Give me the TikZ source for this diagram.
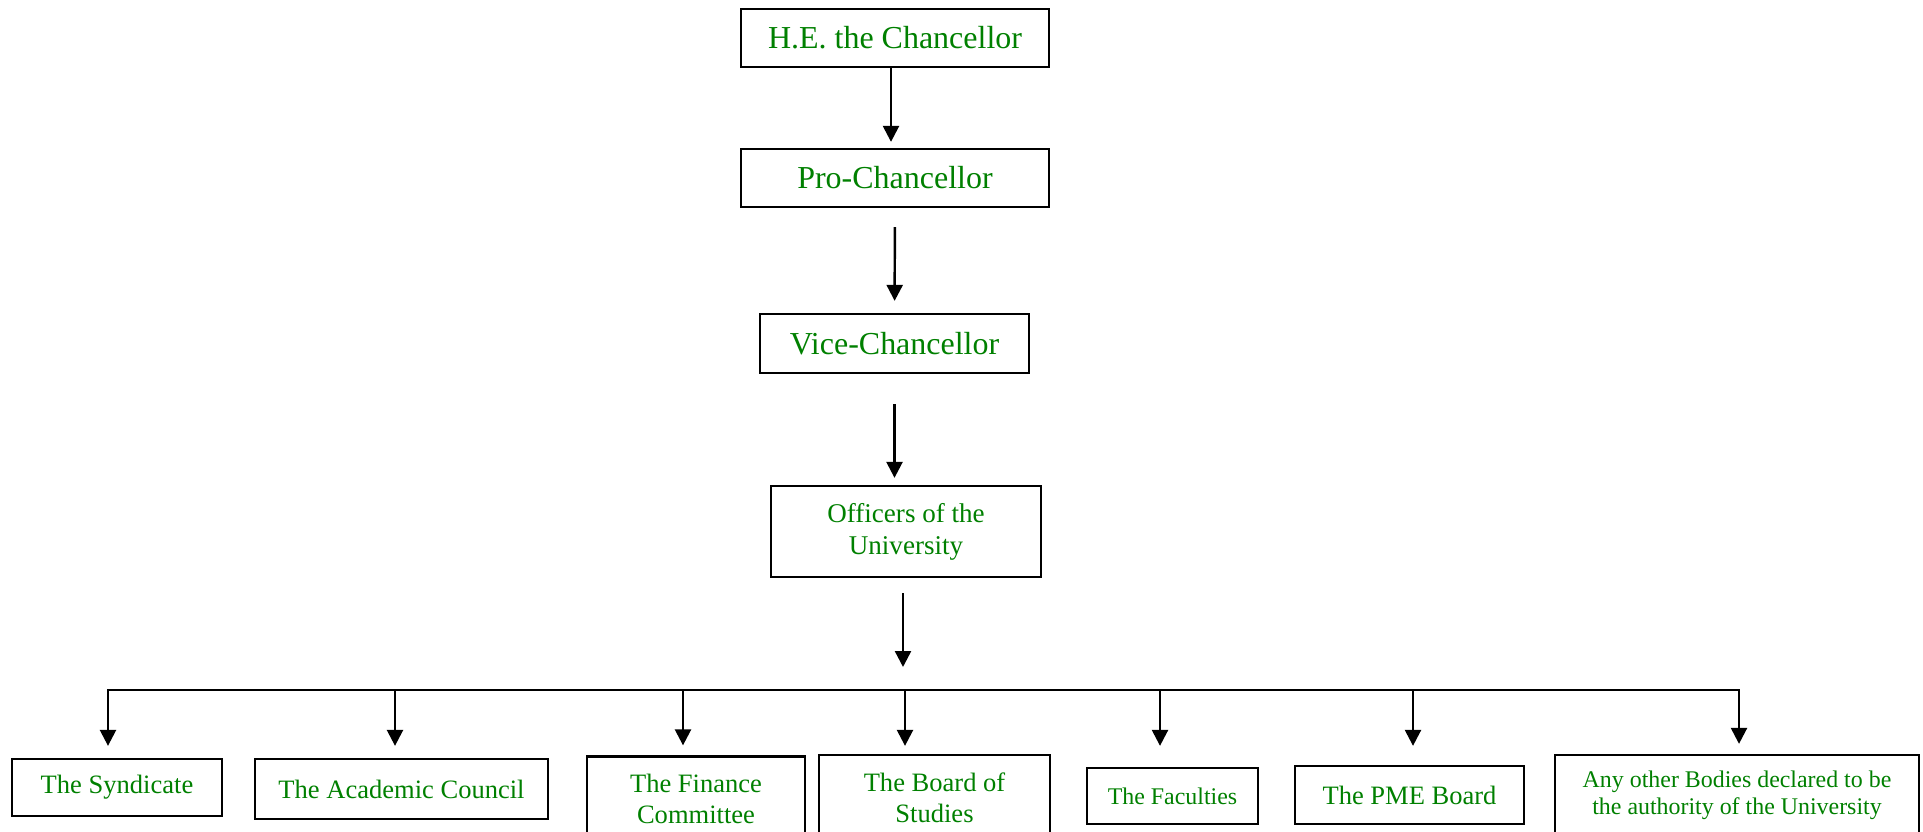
\documentclass[tikz,border=0pt]{standalone}
\usepackage{fontspec}
\setmainfont{Liberation Serif}
\usetikzlibrary{
  arrows.meta,
  positioning,
}
\definecolor{orggreen}{RGB}{0,128,0}

\begin{document}
\begin{tikzpicture}[
  box/.style 2 args={draw, line width=1.3pt, text=orggreen, align=center, inner sep=0pt, minimum width=#1, minimum height=#2},
  big/.style={font=\fontsize{18.2}{21}\selectfont},
  mid/.style={font=\fontsize{15.1}{17.6}\selectfont},
  small/.style={font=\fontsize{13.6}{15.4}\selectfont},
  arr/.style={line width=1.4pt, -{Triangle[length=0.32cm, width=0.32cm]}},
]
\useasboundingbox (0,0) rectangle (38.46,-16.64);
\node[box={6.16cm}{1.16cm}, big] (chan) at (17.9,-0.76) {H.E. the Chancellor};
\node[box={6.16cm}{1.16cm}, big] (pro) at (17.9,-3.56) {Pro-Chancellor};
\node[box={5.38cm}{1.18cm}, big] (vice) at (17.89,-6.87) {Vice-Chancellor};
\node[box={5.4cm}{1.82cm}, font=\fontsize{15.4}{18.2}\selectfont] (off) at (18.12,-10.63) {Officers of the\\University};
\node[box={4.2cm}{1.14cm}, mid] (syn) at (2.34,-15.75) {The Syndicate};
\node[box={5.86cm}{1.2cm}, mid] (acad) at (8.03,-15.78) {The Academic Council};
\node[box={4.36cm}{1.7cm}, mid] (fin) at (13.92,-15.98) {The Finance\\Committee};
\node[box={4.62cm}{1.72cm}, mid] (board) at (18.69,-15.96) {The Board of\\Studies};
\node[box={3.42cm}{1.12cm}, small] (fac) at (23.45,-15.92) {The Faculties};
\node[box={4.58cm}{1.16cm}, mid] (pme) at (28.19,-15.9) {The PME Board};
\node[box={7.28cm}{1.6cm}, small] (other) at (34.74,-15.9) {Any other Bodies declared to be\\the authority of the University};
\coordinate (top) at (17.82,-1.4);
\draw[arr, shorten >=0.12cm] (chan.south -| top) -- (pro.north -| top);
\draw[arr, shorten <=0.38cm, shorten >=0.24cm] (pro) -- (vice);
\draw[arr, shorten <=0.6cm, shorten >=0.14cm] (vice.south) -- (vice.south |- off.north);
\coordinate (drop) at (18.06,-13.34);
\draw[arr, shorten <=0.3cm] (off.south -| drop) -- (drop);
\foreach \b/\x/\t in {syn/2.16/0.24, acad/7.9/0.24, fin/13.66/0.2, board/18.1/0.16, fac/23.2/0.42, pme/28.26/0.38, other/34.78/0.2}{
  \coordinate (b\b) at (\x,-13.8);
  \draw[arr, shorten >=\t cm] (b\b) -- (b\b |- \b.north);
}
\draw[line width=1.4pt, line cap=rect] (bsyn) -- (bother);
\end{tikzpicture}
\end{document}
